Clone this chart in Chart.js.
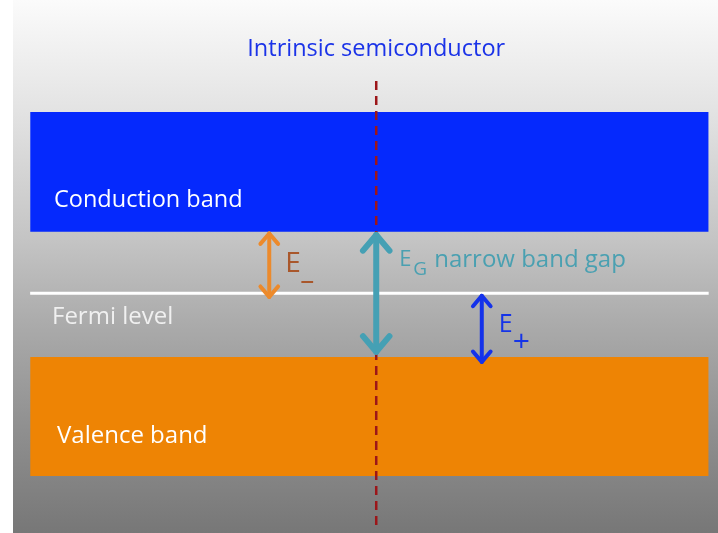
<!DOCTYPE html>
<html>
<head>
<meta charset="utf-8">
<script src="https://cdn.jsdelivr.net/npm/chart.js@4"></script>
<style>
  body { margin: 0; background: #fff; }
  canvas { display: block; }
</style>
</head>
<body>
<canvas id="bandChart" width="718" height="533"></canvas>
<script>
// energy diagram values, in arbitrary energy units (y) and position units (x)
const bandExtent = [4.2, 98.7];
const conductionBand = [5.65, 7.9];
const valenceBand = [1.07, 3.3];
const fermiLevel = 4.5;
const centerLineX = 52.4;
const centerLineRange = [0.15, 8.55];

const arrowNames = ['E-', 'EG', 'E+'];
const arrowX = [37.5, 52.4, 67.1];
const arrowFrom = [5.62, 5.59, 4.45];
const arrowTo = [4.43, 3.40, 3.21];
const arrowColors = ['#ec8a2c', '#45a0b4', '#1432ea'];
const arrowWidths = [4, 6, 4];

function hLine(y) {
    return bandExtent.map(x => ({ x: x, y: y }));
}

// lower order is drawn on top
const datasets = [
    { data: hLine(conductionBand[1]), fill: '+1', backgroundColor: '#0529fd', borderWidth: 0, pointRadius: 0, order: 10 },
    { data: hLine(conductionBand[0]), fill: false, borderWidth: 0, pointRadius: 0, order: 11 },
    { data: hLine(valenceBand[1]), fill: '+1', backgroundColor: '#ee8404', borderWidth: 0, pointRadius: 0, order: 10 },
    { data: hLine(valenceBand[0]), fill: false, borderWidth: 0, pointRadius: 0, order: 11 },
    { data: hLine(fermiLevel), borderColor: '#ffffff', borderWidth: 3, pointRadius: 0, order: 8 },
    {
        data: centerLineRange.map(y => ({ x: centerLineX, y: y })),
        borderColor: '#9c1619', borderWidth: 2.5, borderDash: [9, 6], pointRadius: 0, order: 5
    }
];

arrowNames.forEach((name, i) => {
    datasets.push({
        label: name,
        arrow: true,
        data: [{ x: arrowX[i], y: arrowFrom[i] }, { x: arrowX[i], y: arrowTo[i] }],
        borderColor: arrowColors[i],
        borderWidth: arrowWidths[i],
        borderCapStyle: 'round',
        pointRadius: 0,
        order: 1
    });
});

// grey slide background
const backgroundPlugin = {
    id: 'slideBackground',
    beforeDraw(chart) {
        const ctx = chart.ctx;
        ctx.save();
        ctx.fillStyle = '#ffffff';
        ctx.fillRect(0, 0, chart.width, chart.height);
        const g = ctx.createLinearGradient(0, 0, 0, chart.height);
        g.addColorStop(0, '#fbfbfb');
        g.addColorStop(0.2, '#e4e4e4');
        g.addColorStop(0.45, '#c4c4c4');
        g.addColorStop(0.62, '#a9a9a9');
        g.addColorStop(0.8, '#909090');
        g.addColorStop(1, '#777777');
        ctx.fillStyle = g;
        ctx.fillRect(13, 0, chart.width - 13, chart.height);
        ctx.restore();
    }
};

// double arrow heads on the arrow datasets
const arrowPlugin = {
    id: 'arrowHeads',
    afterDatasetsDraw(chart) {
        const ctx = chart.ctx;
        chart.data.datasets.forEach((ds, i) => {
            if (!ds.arrow) return;
            const pts = chart.getDatasetMeta(i).data;
            const size = ds.borderWidth * 2.6;
            ctx.save();
            ctx.strokeStyle = ds.borderColor;
            ctx.lineWidth = ds.borderWidth;
            ctx.lineCap = 'round';
            ctx.lineJoin = 'round';
            [[pts[0], 1], [pts[1], -1]].forEach(([p, dir]) => {
                ctx.beginPath();
                ctx.moveTo(p.x - size * 0.85, p.y + dir * size);
                ctx.lineTo(p.x, p.y);
                ctx.lineTo(p.x + size * 0.85, p.y + dir * size);
                ctx.stroke();
            });
            ctx.restore();
        });
    }
};

const labelPlugin = {
    id: 'diagramLabels',
    afterDraw(chart) {
        const ctx = chart.ctx;
        const xs = chart.scales.x, ys = chart.scales.y;
        const font = '"Open Sans", "Lato", sans-serif';
        ctx.save();
        ctx.textBaseline = 'middle';

        ctx.fillStyle = '#1b33e8';
        ctx.textAlign = 'center';
        ctx.font = '23.5px ' + font;
        ctx.fillText('Intrinsic semiconductor', xs.getPixelForValue(centerLineX), 49);

        ctx.textAlign = 'left';
        ctx.fillStyle = '#ffffff';
        ctx.font = '23.5px ' + font;
        ctx.fillText('Conduction band', 54, ys.getPixelForValue(conductionBand[0]) - 32);
        ctx.fillStyle = '#f0f0f0';
        ctx.font = '24px ' + font;
        ctx.fillText('Fermi level', 52, ys.getPixelForValue(fermiLevel) + 24);
        ctx.fillStyle = '#ffffff';
        ctx.fillText('Valence band', 57, ys.getPixelForValue(valenceBand[0]) - 40);

        // arrow labels
        const eMinusX = xs.getPixelForValue(arrowX[0]) + 16;
        ctx.fillStyle = '#a9572b';
        ctx.font = '28px ' + font;
        ctx.fillText('E', eMinusX, 264);
        ctx.fillText('\u2013', eMinusX + 15, 281);

        const egX = xs.getPixelForValue(arrowX[1]) + 23;
        ctx.fillStyle = '#4aa0b1';
        ctx.font = '22px ' + font;
        ctx.fillText('E', egX, 260);
        ctx.font = '19px ' + font;
        ctx.fillText('G', egX + 14, 270);
        ctx.font = '24px ' + font;
        ctx.fillText('narrow band gap', egX + 35, 260);

        const ePlusX = xs.getPixelForValue(arrowX[2]) + 17;
        ctx.fillStyle = '#1534e8';
        ctx.font = '25px ' + font;
        ctx.fillText('E', ePlusX, 325);
        ctx.font = '30px ' + font;
        ctx.fillText('+', ePlusX + 14, 342);
        ctx.restore();
    }
};

new Chart(document.getElementById('bandChart').getContext('2d'), {
    type: 'scatter',
    data: { datasets: datasets },
    options: {
        responsive: false,
        animation: false,
        devicePixelRatio: 1,
        showLine: true,
        layout: { padding: 0 },
        scales: {
            x: { type: 'linear', min: 0, max: 100, display: false },
            y: { type: 'linear', min: 0, max: 10, display: false }
        },
        plugins: {
            legend: { display: false },
            tooltip: { enabled: false }
        }
    },
    plugins: [backgroundPlugin, arrowPlugin, labelPlugin]
});
</script>
</body>
</html>
